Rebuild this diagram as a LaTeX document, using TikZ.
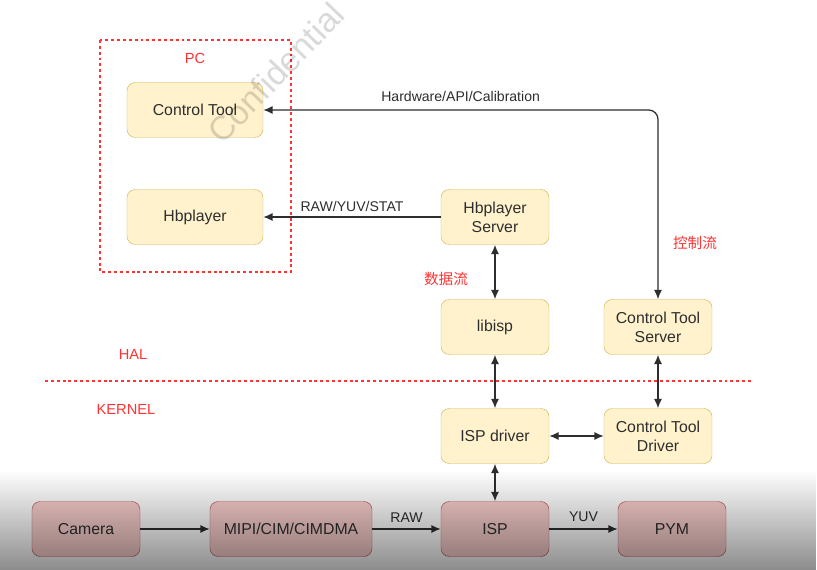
\documentclass[tikz,border=0pt]{standalone}
\usepackage{fontspec}
\setmainfont{Liberation Sans}
\newfontfamily\cjk{Noto Sans CJK SC}
\usetikzlibrary{arrows.meta,fadings}

\definecolor{boxfill}{HTML}{FFF2CC}
\definecolor{boxline}{HTML}{D6B656}
\definecolor{hwfill}{HTML}{F8CECC}
\definecolor{hwline}{HTML}{B85450}
\definecolor{txt}{HTML}{2E2E2E}
\definecolor{redmark}{HTML}{FF3333}

\begin{document}
\begin{tikzpicture}[x=0.03cm,y=-0.03cm,
  blk/.style={draw=boxline,fill=boxfill,rounded corners=7,minimum width=3.24cm,minimum height=1.65cm,align=center,text=txt,font=\fontsize{13.5}{16}\selectfont},
  hwblk/.style={blk,draw=hwline,fill=hwfill},
  lbl/.style={text=txt,font=\fontsize{12}{14}\selectfont},
  redlbl/.style={text=redmark,font=\fontsize{12.5}{14}\selectfont},
  sep/.style={draw=redmark,line width=1pt,dash pattern=on 2.5pt off 2.5pt},
  con/.style={line width=1.1pt,draw=txt,-{Latex[length=2.8mm,width=2.4mm]}},
  dcon/.style={line width=1.1pt,draw=txt,{Latex[length=2.8mm,width=2.4mm]}-{Latex[length=2.8mm,width=2.4mm]}}]
\useasboundingbox (0,0) rectangle (817,570);
\fill[white] (0,0) rectangle (817,570);
% PC side
\draw[sep] (100,40) rectangle (291,272);
\node[redlbl] (pc) at (195,58) {PC};
\node[blk,minimum width=4.08cm] (ct) at (195,110) {Control Tool};
\node[blk,minimum width=4.08cm] (hbp) at (195,217) {Hbplayer};
% board side
\node[blk] (hbs) at (495,217) {Hbplayer\\Server};
\node[blk] (lib) at (495,327) {libisp};
\node[blk] (cts) at (658,327) {Control Tool\\Server};
\node[blk] (drv) at (495,436) {ISP driver};
\node[blk] (ctd) at (658,436) {Control Tool\\Driver};
\draw[sep] (45,381) -- (752,381);
\node[redlbl] (hal) at (133,354) {HAL};
\node[redlbl] (kern) at (126,409) {KERNEL};
\node[hwblk] (cam) at (86,529) {Camera};
\node[hwblk,minimum width=4.86cm] (mipi) at (291,529) {MIPI/CIM/CIMDMA};
\node[hwblk] (isp) at (495,529) {ISP};
\node[hwblk] (pym) at (672,529) {PYM};
% flows
\draw[dcon,rounded corners=8] (cts.north) |- (ct.east) node[pos=0.75,anchor=south,lbl,yshift=3pt]{Hardware/API/Calibration};
\draw[con] (hbs.west) -- (hbp.east) node[midway,anchor=south,lbl,yshift=1pt]{RAW/YUV/STAT};
\draw[dcon] (hbs) -- (lib);
\draw[dcon] (lib) -- (drv);
\draw[dcon] (drv) -- (ctd);
\draw[dcon] (cts) -- (ctd);
\draw[dcon] (drv) -- (isp);
\draw[con] (cam) -- (mipi);
\draw[con] (mipi) -- (isp) node[midway,anchor=south,lbl,yshift=2pt]{RAW};
\draw[con] (isp) -- (pym) node[midway,anchor=south,lbl,yshift=2pt]{YUV};
\node[redlbl] (data) at (446,279) {\cjk 数据流};
\node[redlbl] (ctrl) at (695,243) {\cjk 控制流};
\node[rotate=46,text=black,text opacity=0.15,font=\fontsize{29}{32}\selectfont] (wm) at (276,73) {Confidential};
% dark band of the screen grab
\fill[black,fill opacity=0.45,path fading=north] (0,470) rectangle (817,570);
\end{tikzpicture}
\end{document}
